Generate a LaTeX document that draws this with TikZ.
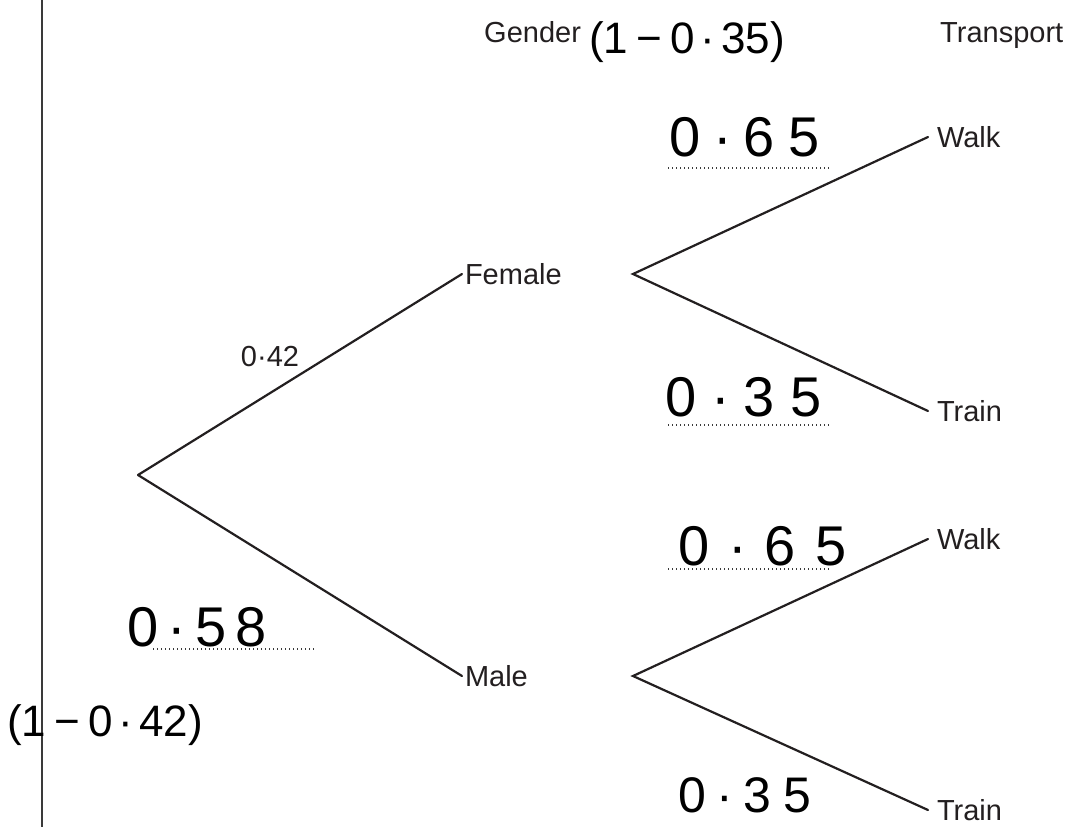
\documentclass[tikz,border=0pt]{standalone}
\usepackage{fontspec}
\setmainfont{Liberation Sans}
\definecolor{ink}{HTML}{231F20}
\definecolor{rule}{HTML}{3A3A3A}
\newcommand\lblfont{\fontsize{29}{34}\selectfont}
\newcommand\hwfont{\fontsize{56}{60}\selectfont}
\newcommand\hwmid{\fontsize{50}{54}\selectfont}
\newcommand\hwsmall{\fontsize{44}{50}\selectfont}
\newcommand\kk[1]{\kern#1pt\relax}
\begin{document}
\begin{tikzpicture}[x=1pt,y=-1pt,
  branch/.style={draw=ink, line width=2.2pt, line cap=round},
  lbl/.style={font=\lblfont, text=ink, inner sep=0pt, inner xsep=3pt, outer sep=0pt, anchor=west},
  leaf/.style={lbl, inner xsep=9pt},
  head/.style={font=\lblfont, text=ink, inner sep=0pt, anchor=base west},
  hw/.style={font=\hwfont, text=black, inner sep=0pt},
  hwm/.style={font=\hwmid, text=black, inner sep=0pt},
  hws/.style={font=\hwsmall, text=black, inner sep=0pt},
  answerline/.style={draw=rule, line width=1.3pt, dash pattern=on 1.3pt off 2.7pt}]
\useasboundingbox (0,0) rectangle (1070,827);
\fill[white] (0,0) rectangle (1070,827);

% margin rule
\coordinate (mtop) at (42,0);
\coordinate (mbot) at (42,827);
\draw[draw=rule, line width=1.8pt] (mtop) -- (mbot);

% headings
\node[head] (gender) at (484,42) {Gender};
\node[head] (transport) at (940,42) {Transport};

% tree
\coordinate (root) at (138,475);
\node[lbl] (female) at (462,274) {Female};
\node[lbl] (male) at (462,676) {Male};
\coordinate (fv) at (633,274);
\coordinate (mv) at (633,676);
\node[leaf] (fwalk) at (928,137) {Walk};
\node[leaf] (ftrain) at (928,411) {Train};
\node[leaf] (mwalk) at (928,539) {Walk};
\node[leaf] (mtrain) at (928,810) {Train};

\draw[branch] (root) -- (female.west);
\draw[branch] (root) -- (male.west);
\draw[branch] (fwalk.west) -- (fv) -- (ftrain.west);
\draw[branch] (mwalk.west) -- (mv) -- (mtrain.west);

% printed probability
\node[font=\lblfont, text=ink, inner sep=0pt] (p042) at (270,357) {0·42};

% answer lines
\draw[answerline] (668,168) -- (830,168);
\draw[answerline] (668,425) -- (830,425);
\draw[answerline] (668,569) -- (830,569);
\draw[answerline] (153,649) -- (315,649);

% handwritten answers
\node[hws] (hwa) at (687,42) {(1\kk{8}−\kk{8}0\kk{6}·\kk{6}35)};
\node[hw] (hwb) at (745,137) {0\kk{12}·\kk{12}6\kk{14}5};
\node[hw] (hwc) at (744,397) {0\kk{14}·\kk{14}3\kk{16}5};
\node[hw] (hwd) at (763,546) {0\kk{18}·\kk{18}6\kk{20}5};
\node[hwm] (hwe) at (745,795) {0\kk{10}·\kk{10}3\kk{12}5};
\node[hw] (hwf) at (197,627) {0\kk{9}·\kk{9}5\kk{9}8};
\node[hws] (hwg) at (105,725) {(1\kk{8}−\kk{8}0\kk{6}·\kk{6}42)};
\end{tikzpicture}
\end{document}
